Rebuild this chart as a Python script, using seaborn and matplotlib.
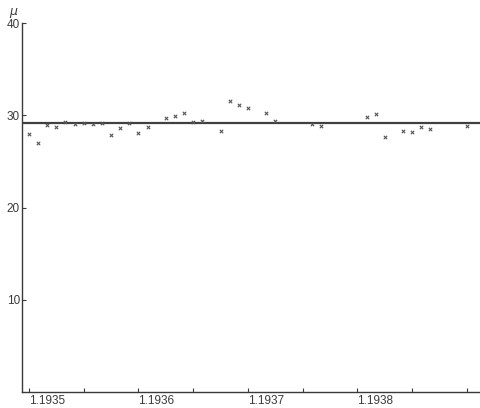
import matplotlib
matplotlib.use("Agg")
import matplotlib.pyplot as plt
import seaborn as sns
import pandas as pd
import numpy as np

# Monthly observations, months counted from January 1935
months = [0, 1, 2, 3, 4, 5, 6, 7, 8, 9, 10, 11, 12, 13, 15, 16, 17, 18, 19,
          21, 22, 23, 24, 26, 27, 31, 32, 37, 38, 39, 41, 42, 43, 44, 48]
values = [28.0, 27.0, 28.9, 28.7, 29.3, 29.1, 29.2, 29.0, 29.2, 27.9, 28.6,
          29.2, 28.1, 28.7, 29.7, 29.9, 30.2, 29.3, 29.4, 28.3, 31.5, 31.1,
          30.8, 30.2, 29.4, 29.0, 28.8, 29.8, 30.1, 27.6, 28.3, 28.2, 28.7,
          28.5, 28.8]
mean_level = 29.2

year_ticks = [1935, 1936, 1937, 1938]
year_labels = ["1.1935", "1.1936", "1.1937", "1.1938"]
y_ticks = [10, 20, 30, 40]

df = pd.DataFrame({"t": [1935 + m / 12 for m in months], "mu": values})

sns.set_style("white")
plt.rcParams["font.family"] = ["Liberation Sans", "DejaVu Sans"]

fig = plt.figure(figsize=(4.8, 4.08), dpi=100)
ax = fig.add_axes([22 / 480, 16 / 408, 1 - 22 / 480, (392 - 23) / 408])

ink = "#3a3a3a"
sns.scatterplot(data=df, x="t", y="mu", marker="x", s=6, color="#555555",
                linewidth=0.8, ax=ax, legend=False, zorder=3)
ax.axhline(mean_level, color="#404040", lw=1.6, zorder=2)

ax.set_xlim(1935 - 7 / 109.5, 1935 + 451 / 109.5)
ax.set_ylim(0, 40)

half_years = np.arange(1935, 1939.01, 0.5)
ax.set_xticks(half_years)
ax.set_xticklabels([year_labels[year_ticks.index(int(t))] if t in year_ticks else ""
                    for t in half_years],
                   ha="left")
ax.set_yticks(y_ticks)
ax.set_yticklabels([str(v) for v in y_ticks])

ax.tick_params(axis="both", direction="in", length=3, width=0.8, color=ink,
               labelsize=8.5, labelcolor=ink, bottom=True, left=True)
ax.tick_params(axis="x", pad=2)
ax.tick_params(axis="y", pad=1.5)

for side in ("top", "right"):
    ax.spines[side].set_visible(False)
for side in ("left", "bottom"):
    ax.spines[side].set_color(ink)
    ax.spines[side].set_linewidth(1.0)

ax.set_xlabel("")
ax.set_ylabel("")
fig.text(13 / 480, 1 - 11 / 408, "μ", fontsize=9, style="italic", color=ink,
         ha="center", va="center", family=["DejaVu Sans"])

fig.savefig("out.png", dpi=100, facecolor="white")
